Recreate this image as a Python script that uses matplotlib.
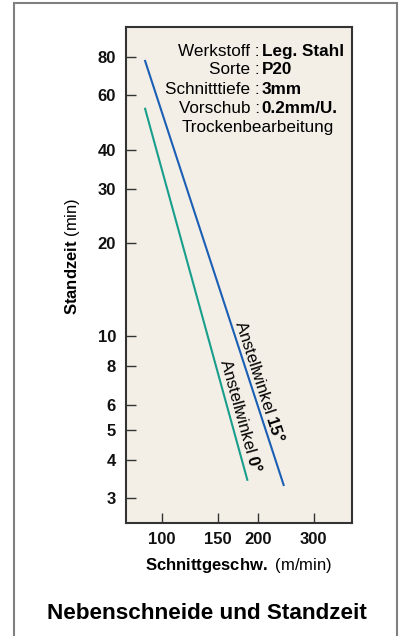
import matplotlib
matplotlib.use("Agg")
import matplotlib.pyplot as plt
from matplotlib.patches import Rectangle
from matplotlib.ticker import FixedLocator, NullLocator

plt.rcParams['font.family'] = ['Liberation Sans', 'DejaVu Sans']
plt.rcParams['mathtext.fontset'] = 'custom'
plt.rcParams['mathtext.rm'] = 'Liberation Sans'
plt.rcParams['mathtext.bf'] = 'Liberation Sans:bold'

# data (cutting speed m/min vs tool life min)
speed_15 = [88.6, 241.4]
life_15 = [77.5, 3.31]
speed_0 = [88.6, 185.6]
life_0 = [54.3, 3.44]

x_ticks = [100, 150, 200, 300]
y_ticks = [3, 4, 5, 6, 8, 10, 20, 30, 40, 60, 80]

info_keys = ["Werkstoff :", "Sorte :", "Schnitttiefe :", "Vorschub :"]
info_vals = ["Leg. Stahl", "P20", "3mm", "0.2mm/U."]

blue = "#1a5fb4"
green = "#1a9e8c"

fig = plt.figure(figsize=(4.01, 6.36), dpi=100)
fig.patches.append(Rectangle((0.0357, -0.02), 0.955, 1.0158, transform=fig.transFigure,
                             fill=False, edgecolor="#808080", linewidth=1.5))

ax = fig.add_axes([0.3135, 0.1781, 0.5636, 0.780])
ax.set_facecolor("#f3efe7")
ax.set_xscale("log")
ax.set_yscale("log")
ax.set_xlim(77, 395)
ax.set_ylim(2.5, 100)

ax.plot(speed_15, life_15, color=blue, lw=1.5)
ax.plot(speed_0, life_0, color=green, lw=1.5)

ax.xaxis.set_major_locator(FixedLocator(x_ticks))
ax.xaxis.set_minor_locator(NullLocator())
ax.yaxis.set_major_locator(FixedLocator(y_ticks))
ax.yaxis.set_minor_locator(NullLocator())
ax.set_xticklabels([str(t) for t in x_ticks])
ax.set_yticklabels([str(t) for t in y_ticks])
ax.tick_params(direction="in", length=7, width=1, color="#333333", pad=7,
               labelsize=12, labelcolor="#111111")
for lab in ax.get_xticklabels() + ax.get_yticklabels():
    lab.set_fontweight("bold")
for s in ax.spines.values():
    s.set_color("#333333")
    s.set_linewidth(1.5)

# info block
rows_y = [0.9496, 0.9127, 0.8738, 0.8355]
for k, v, y in zip(info_keys, info_vals, rows_y):
    ax.text(0.592, y, k, transform=ax.transAxes, ha="right", va="center", fontsize=12.3)
    ax.text(0.602, y, v, transform=ax.transAxes, ha="left", va="center", fontsize=12.3,
            fontweight="bold")
ax.text(0.585, 0.7964, "Trockenbearbeitung", transform=ax.transAxes,
        ha="center", va="center", fontsize=12.3)

# line labels
ax.text(0.594, 0.2857, r"Anstellwinkel $\mathbf{15°}$", transform=ax.transAxes,
        rotation=-72, rotation_mode="anchor", ha="center", va="center", fontsize=12)
ax.text(0.510, 0.215, r"Anstellwinkel $\mathbf{0°}$", transform=ax.transAxes,
        rotation=-74.5, rotation_mode="anchor", ha="center", va="center", fontsize=12)

# axis labels
fig.text(0.18, 0.5975, r"$\mathbf{Standzeit}$ (min)", rotation=90,
         ha="center", va="center", fontsize=12)
fig.text(0.595, 0.1105, r"$\mathbf{Schnittgeschw.}$ (m/min)",
         ha="center", va="center", fontsize=12)

fig.text(0.515, 0.0357, "Nebenschneide und Standzeit", ha="center", va="center",
         fontsize=16.2, fontweight="bold")

fig.savefig("out.png", dpi=100)
